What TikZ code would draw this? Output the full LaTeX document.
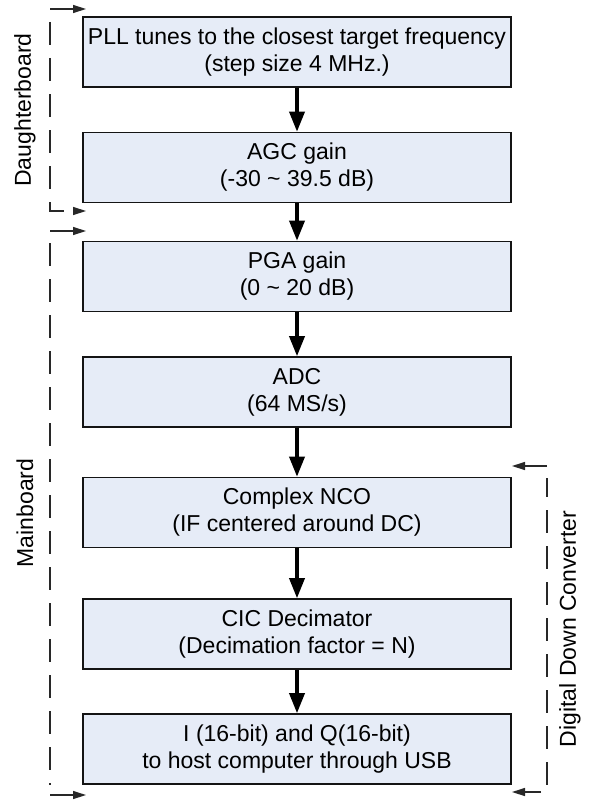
\documentclass[tikz,border=0pt]{standalone}
\usepackage{fontspec}
\setmainfont{Liberation Sans}
\usetikzlibrary{arrows.meta}
\definecolor{boxfill}{RGB}{230,236,247}
\definecolor{boxline}{RGB}{20,20,20}
\definecolor{bracketline}{RGB}{40,40,40}
\tikzset{
  stagebox/.style={draw=boxline, line width=1.6pt, fill=boxfill, minimum width=428pt,
    minimum height=70pt, inner sep=0pt, align=center,
    font=\fontsize{23}{27}\selectfont},
  flowarrow/.style={line width=3.5pt, -{Triangle[length=20pt,width=15pt]}},
  bracketdash/.style={draw=bracketline, line width=1.4pt, dash pattern=on 23pt off 13pt},
  bracketarrow/.style={draw=bracketline, line width=1.4pt, -{Triangle[length=13pt,width=8pt]}},
  sidelabel/.style={rotate=90, inner sep=0pt, font=\fontsize{23}{27}\selectfont}
}
\begin{document}
\begin{tikzpicture}[x=1pt,y=-1pt]
\useasboundingbox (0,0) rectangle (590,800);
\node[stagebox] (pll) at (297,52) {PLL tunes to the closest target frequency\\(step size 4 MHz.)};
\node[stagebox] (agc) at (297,167.5) {AGC gain\\(-30 \textasciitilde{} 39.5 dB)};
\node[stagebox] (pga) at (297,276.5) {PGA gain\\(0 \textasciitilde{} 20 dB)};
\node[stagebox] (adc) at (297,392) {ADC\\(64 MS/s)};
\node[stagebox] (nco) at (297,512.5) {Complex NCO\\(IF centered around DC)};
\node[stagebox] (cic) at (297,634) {CIC Decimator\\(Decimation factor = N)};
\node[stagebox] (out) at (297,749) {I (16-bit) and Q(16-bit)\\to host computer through USB};
\draw[flowarrow] (pll) -- (agc);
\draw[flowarrow] (agc) -- (pga);
\draw[flowarrow] (pga) -- (adc);
\draw[flowarrow] (adc) -- (nco);
\draw[flowarrow] (nco) -- (cic);
\draw[flowarrow] (cic) -- (out);
% Daughterboard bracket
\coordinate (dbt) at (50,9);
\coordinate (dbte) at (86,9);
\coordinate (dbb) at (50,211);
\coordinate (dbbe) at (86,211);
\draw[bracketarrow] (dbt) -- (dbte);
\draw[bracketdash, bracketarrow] (50,22) -- (dbb) -- (dbbe);
\node[sidelabel] (dblabel) at (25,110) {Daughterboard};
% Mainboard bracket
\coordinate (mbt) at (50,231);
\coordinate (mbte) at (86,231);
\coordinate (mbb) at (50,795);
\coordinate (mbbe) at (86,795);
\draw[bracketarrow] (mbt) -- (mbte);
\draw[bracketdash] (50,243) -- (50,785);
\draw[bracketarrow] (mbb) -- (mbbe);
\node[sidelabel] (mblabel) at (25,513) {Mainboard};
% DDC bracket
\coordinate (ddt) at (547,466);
\coordinate (ddte) at (512,466);
\coordinate (ddb) at (547,792);
\coordinate (ddbe) at (512,792);
\draw[bracketarrow] (ddt) -- (ddte);
\draw[bracketdash, bracketarrow, dash phase=4pt] (547,478) -- (ddb) -- (ddbe);
\node[sidelabel] (ddlabel) at (570,629) {Digital Down Converter};
\end{tikzpicture}
\end{document}
